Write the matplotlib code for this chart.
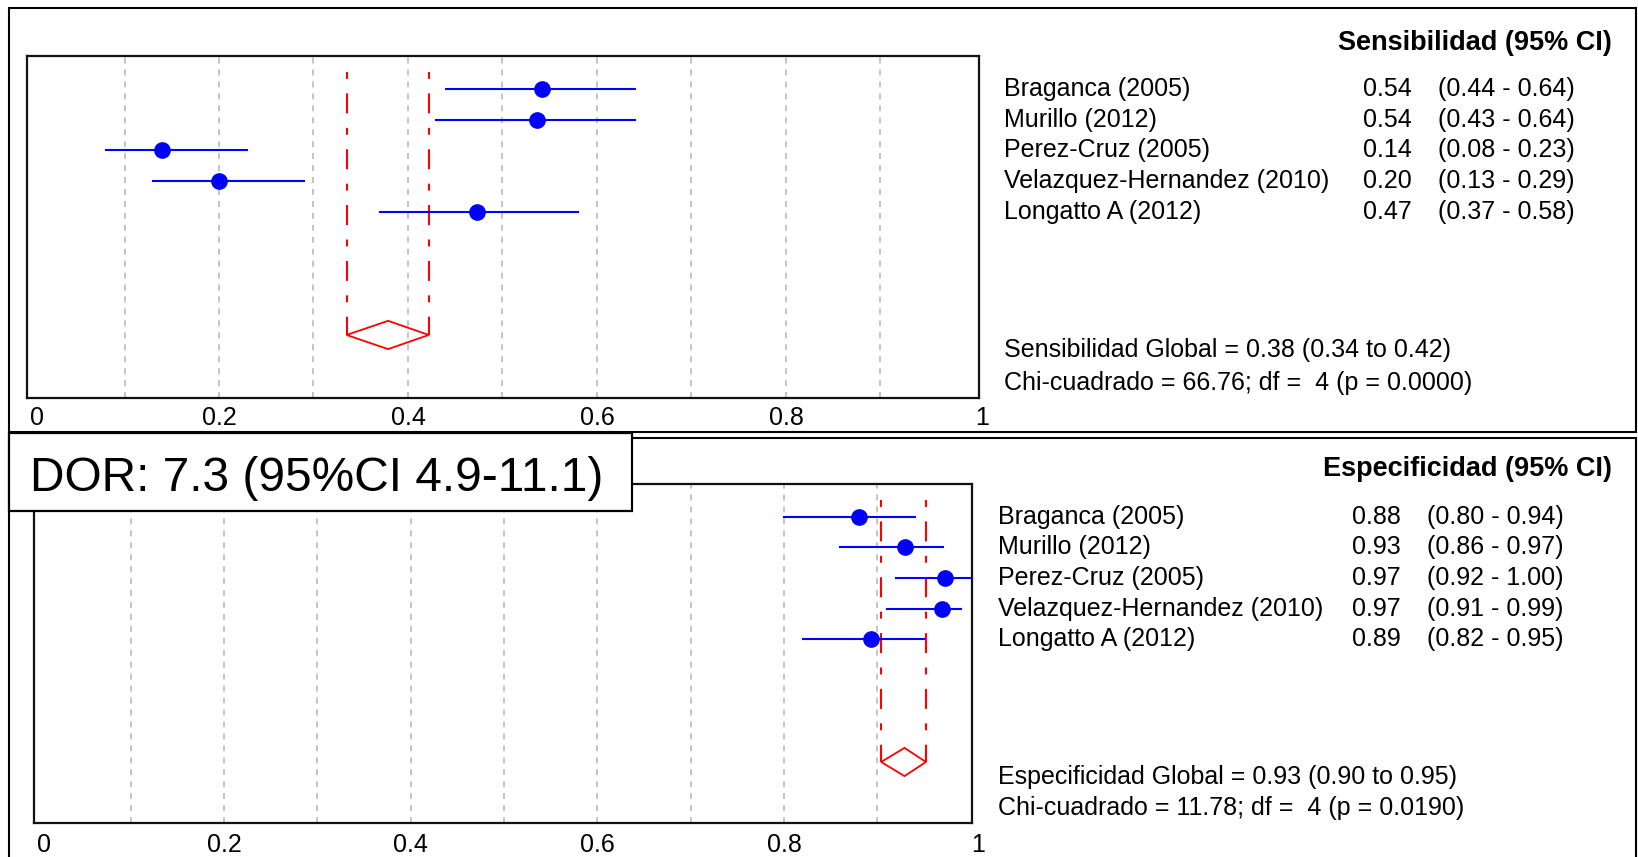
import matplotlib
matplotlib.use("Agg")
import matplotlib.pyplot as plt
from matplotlib.patches import Rectangle, Polygon
import matplotlib.transforms as mtransforms

# ---------------- data ----------------
studies = ["Braganca (2005)", "Murillo (2012)", "Perez-Cruz (2005)",
           "Velazquez-Hernandez (2010)", "Longatto A (2012)"]
sens = [0.54, 0.54, 0.14, 0.20, 0.47]
sens_plot = [0.542, 0.537, 0.14, 0.20, 0.473]
sens_lo = [0.44, 0.43, 0.08, 0.13, 0.37]
sens_hi = [0.64, 0.64, 0.23, 0.29, 0.58]
spec = [0.88, 0.93, 0.97, 0.97, 0.89]
spec_plot = [0.88, 0.93, 0.972, 0.969, 0.893]
spec_lo = [0.80, 0.86, 0.92, 0.91, 0.82]
spec_hi = [0.94, 0.97, 1.00, 0.99, 0.95]
pooled_sens = [0.379, 0.335, 0.422]
pooled_spec = [0.929, 0.904, 0.952]
sens_header = "Sensibilidad (95% CI)"
spec_header = "Especificidad (95% CI)"
sens_global = "Sensibilidad Global = 0.38 (0.34 to 0.42)"
sens_chi = "Chi-cuadrado = 66.76; df =  4 (p = 0.0000)"
spec_global = "Especificidad Global = 0.93 (0.90 to 0.95)"
spec_chi = "Chi-cuadrado = 11.78; df =  4 (p = 0.0190)"
dor_text = "DOR: 7.3 (95%CI 4.9-11.1)"
xticks = [0, 0.2, 0.4, 0.6, 0.8, 1]
xtick_labels = ["0", "0.2", "0.4", "0.6", "0.8", "1"]
grid_x = [0.1, 0.2, 0.3, 0.4, 0.5, 0.6, 0.7, 0.8, 0.9]
pooled_row = 8

# ---------------- layout ----------------
W, H = 1638, 857
plt.rcParams['font.family'] = ['Liberation Sans', 'DejaVu Sans']
plt.rcParams['lines.scale_dashes'] = False

fig = plt.figure(figsize=(W / 100, H / 100), dpi=100)
fig.patch.set_facecolor('white')


def fx(px):
    return px / W


def fy(py):
    return 1 - py / H


def make_axes(left, right, top, bottom):
    return fig.add_axes([fx(left), fy(bottom), (right - left) / W, (bottom - top) / H])


# outer frames
fig.patches.append(Rectangle((fx(9), fy(432)), fx(1636) - fx(9), fy(8) - fy(432),
                             transform=fig.transFigure, fill=False, lw=1.5,
                             edgecolor='black', zorder=0))
fig.patches.append(Rectangle((fx(9), fy(870)), fx(1636) - fx(9), fy(438) - fy(870),
                             transform=fig.transFigure, fill=False, lw=1.5,
                             edgecolor='black', zorder=0))


def panel(ax, est, est_plot, lo, hi, pooled, ylim, xlim, header, header_y, name_x,
          val_x, ci_x, glob_txt, glob_y, chi_txt, chi_y, pad):
    ax.set_xlim(*xlim)
    ax.set_ylim(*ylim)
    for g in grid_x:
        ax.plot([g, g], [ylim[0], ylim[1]], color='#b4b4b4', lw=1.1,
                linestyle=(0, (4.3, 4.3)), zorder=1)
    # pooled CI lines
    for v in (pooled[1], pooled[2]):
        ax.plot([v, v], [-0.55, pooled_row], color='red', lw=1.5,
                linestyle=(0, (5, 10.4, 14.4, 10.4)), zorder=2)
    dh = 0.46
    ax.add_patch(Polygon([[pooled[1], pooled_row], [pooled[0], pooled_row - dh],
                          [pooled[2], pooled_row], [pooled[0], pooled_row + dh]],
                         closed=True, fill=False, edgecolor='red', lw=1.3, zorder=3))
    rows = list(range(len(est)))
    for r, l, h in zip(rows, lo, hi):
        ax.plot([l, h], [r, r], color='blue', lw=1.5, zorder=4)
    ax.plot(est_plot, rows, 'o', color='blue', markersize=11, zorder=5, linestyle='none')
    ax.set_yticks([])
    ax.set_xticks(xticks)
    ax.set_xticklabels(xtick_labels, fontsize=18)
    ax.tick_params(axis='x', length=0, pad=pad)
    labs = ax.get_xticklabels()
    labs[0].set_ha('left')
    labs[-1].set_ha('left')
    for s in ax.spines.values():
        s.set_linewidth(1.6)
        s.set_color('#111111')
    tr = mtransforms.blended_transform_factory(fig.transFigure, ax.transData)
    for r, name, e, l, h in zip(rows, studies, est, lo, hi):
        fig.text(fx(name_x), r, name, transform=tr, fontsize=18, va='center', ha='left')
        fig.text(fx(val_x), r, f"{e:.2f}", transform=tr, fontsize=18, va='center', ha='left')
        fig.text(fx(ci_x), r, f"({l:.2f} - {h:.2f})", transform=tr, fontsize=18,
                 va='center', ha='left')
    fig.text(fx(1612), fy(header_y), header, fontsize=19.5, fontweight='bold',
             ha='right', va='center')
    fig.text(fx(name_x), fy(glob_y), glob_txt, fontsize=18, ha='left', va='center')
    fig.text(fx(name_x), fy(chi_y), chi_txt, fontsize=18, ha='left', va='center')


ax1 = make_axes(27, 978.7, 56, 398)
panel(ax1, sens, sens_plot, sens_lo, sens_hi, pooled_sens, (10.05, -1.073),
      (-0.0032, 1.004), sens_header, 43, 1004, 1363, 1438, sens_global, 350,
      sens_chi, 383, 5.8)

ax2 = make_axes(34.4, 971.7, 484, 823.3)
panel(ax2, spec, spec_plot, spec_lo, spec_hi, pooled_spec, (10.0, -1.067),
      (-0.0033, 1.001), spec_header, 469, 998, 1352, 1427, spec_global, 777,
      spec_chi, 808, 6.8)

# DOR box
fig.patches.append(Rectangle((fx(9), fy(511)), fx(632) - fx(9), fy(433) - fy(511),
                             transform=fig.transFigure, facecolor='white', lw=1.6,
                             edgecolor='black', zorder=10))
fig.text(fx(30), fy(479), dor_text, fontsize=34.5, ha='left', va='center', zorder=11)

fig.savefig("out.png", dpi=100)
